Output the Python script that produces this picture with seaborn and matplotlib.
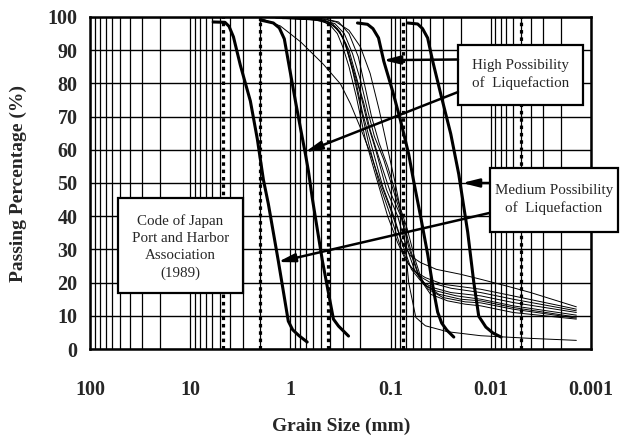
import matplotlib
matplotlib.use('Agg')
import matplotlib.pyplot as plt
import matplotlib.ticker as mticker
from matplotlib.patches import Rectangle
import seaborn as sns

sns.set_style('white')
plt.rcParams['font.family'] = ['Liberation Serif', 'DejaVu Serif']

# ---- data: grain size (mm) vs passing percentage (%) ----
# boundary curves (Code of Japan Port and Harbor Association, 1989)
bound_a_d = [5.9, 4.5, 4.1, 3.7, 3.16, 2.51, 2.14, 1.86, 1.66, 1.32, 1.05, 0.95, 0.82, 0.68]
bound_a_p = [98.5, 98.4, 97.2, 94.0, 85.5, 74.7, 63.3, 51.0, 43.7, 26.5, 8.4, 5.8, 4.0, 2.1]
bound_b_d = [2.0, 1.48, 1.29, 1.15, 1.05, 0.891, 0.794, 0.708, 0.661, 0.603, 0.479, 0.372, 0.331, 0.263]
bound_b_p = [99.1, 98.2, 96.7, 93.4, 86.7, 74.7, 66.6, 58.7, 53.6, 45.2, 26.5, 9.0, 6.9, 3.9]
bound_c_d = [0.214, 0.17, 0.15, 0.132, 0.117, 0.0955, 0.0794, 0.066, 0.0589, 0.0501, 0.0427, 0.0372,
             0.0339, 0.0309, 0.0275, 0.0234]
bound_c_p = [98.2, 97.8, 96.5, 93.7, 86.7, 77.7, 68.7, 58.7, 50.6, 39.8, 28.6, 17.5, 11.1, 7.8, 5.7, 3.6]
bound_d_d = [0.0676, 0.0537, 0.048, 0.0427, 0.038, 0.0316, 0.0251, 0.0209, 0.017, 0.0148, 0.0132,
             0.0112, 0.0095, 0.0079]
bound_d_p = [98.2, 97.9, 96.5, 93.7, 86.7, 76.8, 64.8, 52.7, 35.2, 20.2, 9.9, 6.6, 4.8, 3.6]

# measured samples
sample_d = [
    [1.9, 1.26, 0.79, 0.47, 0.316, 0.251, 0.2, 0.158, 0.126, 0.1, 0.079, 0.063, 0.05, 0.035, 0.02, 0.0126, 0.007, 0.004, 0.0014],
    [1.6, 0.9, 0.5, 0.4, 0.34, 0.3, 0.26, 0.22, 0.178, 0.14, 0.107, 0.085, 0.07, 0.058, 0.045, 0.03, 0.0126, 0.006, 0.0014],
    [1.4, 0.8, 0.5, 0.38, 0.32, 0.28, 0.24, 0.2, 0.166, 0.13, 0.1, 0.08, 0.066, 0.052, 0.04, 0.025, 0.0126, 0.006, 0.0014],
    [1.2, 0.7, 0.45, 0.36, 0.3, 0.26, 0.22, 0.19, 0.151, 0.12, 0.093, 0.075, 0.062, 0.05, 0.038, 0.025, 0.0126, 0.006, 0.0014],
    [1.0, 0.6, 0.42, 0.34, 0.28, 0.24, 0.2, 0.17, 0.141, 0.11, 0.085, 0.07, 0.058, 0.047, 0.035, 0.022, 0.0126, 0.006, 0.0014],
    [0.9, 0.55, 0.4, 0.32, 0.26, 0.22, 0.185, 0.16, 0.132, 0.1, 0.079, 0.065, 0.054, 0.044, 0.033, 0.02, 0.0126, 0.006, 0.0014],
    [0.8, 0.5, 0.36, 0.29, 0.24, 0.2, 0.17, 0.145, 0.117, 0.09, 0.074, 0.062, 0.052, 0.042, 0.03, 0.018, 0.0126, 0.006, 0.0014],
    [0.7, 0.45, 0.33, 0.26, 0.21, 0.18, 0.155, 0.13, 0.107, 0.085, 0.068, 0.057, 0.048, 0.04, 0.027, 0.018, 0.0126, 0.006, 0.0014],
    [0.9, 0.5, 0.35, 0.26, 0.2, 0.16, 0.13, 0.11, 0.09, 0.075, 0.066, 0.056, 0.045, 0.027, 0.0126, 0.004, 0.0014],
]
sample_p = [
    [99.4, 97.3, 92.5, 85.8, 79.8, 73.8, 66.6, 58.7, 50, 42, 33, 28, 26, 24, 22.5, 21, 19, 17, 12.7],
    [99.8, 99.6, 99, 97.5, 95, 91, 85, 76, 63, 52, 40, 32, 26.5, 23.5, 21.5, 19.5, 18, 16, 12],
    [99.7, 99.3, 99.2, 98, 95.5, 91.5, 84, 73, 62, 50, 40, 31, 25.5, 22, 20, 18.3, 17, 15, 11.5],
    [99.5, 99.5, 99, 97, 94, 88, 80, 71, 60, 49, 40, 31, 24, 20.5, 18.5, 17, 16, 14, 11],
    [99.6, 99.2, 98.5, 96.5, 92, 85, 77, 68, 60, 48, 40, 31, 24, 19.5, 17.5, 16, 15, 13, 10.2],
    [99.5, 99, 98, 95.5, 90, 82, 74, 66, 58, 47, 40, 30, 23, 19, 16.5, 15, 14.5, 12.5, 9.6],
    [99.5, 99.2, 98, 95, 89, 81, 72, 64, 57, 46, 38, 29, 22, 18, 15.5, 14.2, 13.9, 12, 9.3],
    [99.6, 99.4, 98.5, 95, 88, 79, 70, 62, 55, 45, 36, 27, 20, 16.5, 14.5, 13.5, 13, 11, 9],
    [99.7, 99.5, 98.5, 96, 91, 83, 72, 62, 50, 38, 20, 9.5, 7, 5.2, 4, 3.2, 2.6],
]

sieve_sizes = [4.75, 2.0, 0.425, 0.075, 0.005]
x_ticks = [100, 10, 1, 0.1, 0.01, 0.001]
x_tick_labels = ['100', '10', '1', '0.1', '0.01', '0.001']
y_ticks = list(range(0, 101, 10))

fig = plt.figure(figsize=(6.21, 4.36), dpi=100)
ax = fig.add_axes([90 / 621, 87 / 436, 501 / 621, 332 / 436])

# sample curves (thin)
for d, p in zip(sample_d, sample_p):
    sns.lineplot(x=d, y=p, sort=False, estimator=None, color='black', linewidth=0.7, ax=ax, legend=False)

# boundary curves (thick)
for d, p in [(bound_a_d, bound_a_p), (bound_b_d, bound_b_p), (bound_c_d, bound_c_p), (bound_d_d, bound_d_p)]:
    sns.lineplot(x=d, y=p, sort=False, estimator=None, color='black', linewidth=2.2, ax=ax, legend=False)

# sieve lines (dotted)
for s in sieve_sizes:
    ax.axvline(s, color='black', lw=2.3, ls=(0, (1.1, 1.2)), zorder=1)

ax.set_xscale('log')
ax.set_xlim(100, 0.001)
ax.set_ylim(0, 100)
ax.set_xticks(x_ticks)
ax.set_xticklabels(x_tick_labels)
ax.xaxis.set_minor_locator(mticker.LogLocator(base=10, subs=range(2, 10), numticks=20))
ax.xaxis.set_minor_formatter(mticker.NullFormatter())
ax.set_yticks(y_ticks)
ax.grid(True, which='both', axis='x', color='black', lw=0.9)
ax.grid(True, which='major', axis='y', color='black', lw=1.0)
ax.set_axisbelow(True)
for sp in ax.spines.values():
    sp.set_linewidth(1.8)
    sp.set_color('black')

ax.tick_params(axis='x', which='both', length=0, pad=22, labelsize=14.5)
ax.tick_params(axis='y', length=0, pad=9, labelsize=14.5)
for lbl in ax.get_xticklabels() + ax.get_yticklabels():
    lbl.set_fontweight('bold')
ax.set_xlabel('')
ax.set_ylabel('')

fig.text(18 / 621, 1 - 184 / 436, 'Passing Percentage (%)', rotation=90, ha='center', va='center',
         fontsize=14, fontweight='bold')
fig.text(341 / 621, 1 - 426 / 436, 'Grain Size (mm)', ha='center', va='center',
         fontsize=14, fontweight='bold')

# annotation boxes
boxes = [
    ((0.7345, 0.735), 0.2495, 0.181, (0.860, 0.826), 'High Possibility\nof  Liquefaction'),
    ((0.798, 0.352), 0.256, 0.193, (0.926, 0.449), 'Medium Possibility\nof  Liquefaction'),
    ((0.0559, 0.169), 0.249, 0.286, (0.180, 0.306), 'Code of Japan\nPort and Harbor\nAssociation\n(1989)'),
]
for (x0, y0), w, h, (tx, ty), txt in boxes:
    ax.add_patch(Rectangle((x0, y0), w, h, transform=ax.transAxes, facecolor='white',
                           edgecolor='black', lw=1.6, zorder=5, clip_on=False))
    ax.text(tx, ty, txt, transform=ax.transAxes, ha='center', va='center', fontsize=10.8,
            linespacing=1.4, zorder=6)

arrows = [
    ((0.7345, 0.872), (0.585, 0.870)),
    ((0.7345, 0.774), (0.429, 0.593)),
    ((0.798, 0.500), (0.7425, 0.500)),
    ((0.798, 0.410), (0.375, 0.262)),
]
for start, tip in arrows:
    ax.annotate('', xy=tip, xycoords='axes fraction', xytext=start, textcoords='axes fraction',
                arrowprops=dict(arrowstyle='-|>,head_length=1.0,head_width=0.25', color='black',
                                lw=1.8, shrinkA=0, shrinkB=0), zorder=7)

fig.savefig('out.png', dpi=100)
